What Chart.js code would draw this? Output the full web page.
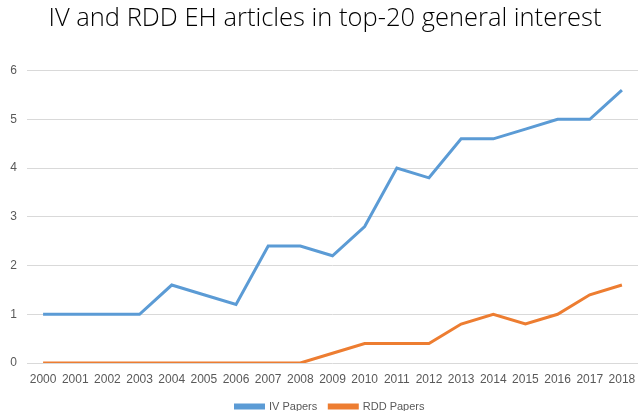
<!DOCTYPE html>
<html>
<head>
<meta charset="utf-8">
<script src="https://cdn.jsdelivr.net/npm/chart.js@4"></script>
<style>
  html, body { margin: 0; padding: 0; background: #fff; }
  #wrap { width: 638px; height: 411px; }
</style>
</head>
<body>
<div id="wrap"><canvas id="chart" width="638" height="411"></canvas></div>
<script>
// du lieu doc tu hinh
const years = ['2000', '2001', '2002', '2003', '2004', '2005', '2006', '2007', '2008', '2009',
  '2010', '2011', '2012', '2013', '2014', '2015', '2016', '2017', '2018'];
const ivPapers = [1, 1, 1, 1, 1.6, 1.4, 1.2, 2.4, 2.4, 2.2, 2.8, 4, 3.8, 4.6, 4.6, 4.8, 5, 5, 5.6];
const rddPapers = [0, 0, 0, 0, 0, 0, 0, 0, 0, 0.2, 0.4, 0.4, 0.4, 0.8, 1, 0.8, 1, 1.4, 1.6];
const yTicks = [0, 1, 2, 3, 4, 5, 6];

const tickFont = { family: 'Liberation Sans', size: 12 };

// doi title va legend sang phai mot chut (giong hinh goc)
const shiftBoxes = {
  id: 'shiftBoxes',
  afterLayout(chart) {
    if (chart.titleBlock) { chart.titleBlock.left += 6; chart.titleBlock.right += 6; }
    if (chart.legend) { chart.legend.left += 11; chart.legend.right += 11; }
  }
};

var ctx = document.getElementById('chart').getContext('2d');
var chart = new Chart(ctx, {
  type: 'line',
  data: {
    labels: years,
    datasets: [{
      label: 'IV Papers',
      data: ivPapers,
      borderColor: '#5B9BD5',
      backgroundColor: '#5B9BD5',
      borderWidth: 3,
      pointRadius: 0,
      tension: 0
    }, {
      label: 'RDD Papers',
      data: rddPapers,
      borderColor: '#ED7D31',
      backgroundColor: '#ED7D31',
      borderWidth: 3,
      pointRadius: 0,
      tension: 0
    }]
  },
  options: {
    responsive: false,
    animation: false,
    layout: { padding: { left: 0, right: 0, top: 3, bottom: -11 } },
    scales: {
      x: {
        offset: true,
        grid: { display: false },
        border: { display: false },
        ticks: { color: '#595959', font: tickFont, maxRotation: 0, autoSkip: false, padding: 1 },
        afterFit: function(scale) {
          scale.height = 26;
          scale.paddingLeft = 0;
          scale.paddingRight = 0;
        }
      },
      y: {
        min: 0,
        max: 6,
        afterBuildTicks: function(scale) { scale.ticks = yTicks.map(v => ({ value: v })); },
        grid: { color: '#d9d9d9', lineWidth: 1, drawTicks: false },
        border: { display: false },
        ticks: { color: '#595959', font: tickFont, padding: 10 },
        afterFit: function(scale) { scale.width = 27; }
      }
    },
    plugins: {
      title: {
        display: true,
        text: 'IV and RDD EH articles in top-20 general interest',
        color: '#000',
        font: { family: 'Open Sans', size: 25.5, weight: 300 },
        padding: { top: 0, bottom: 37 }
      },
      legend: {
        position: 'bottom',
        labels: {
          color: '#595959',
          font: { family: 'Liberation Sans', size: 11 },
          boxWidth: 28,
          boxHeight: 3,
          padding: 12
        }
      },
      tooltip: { enabled: false }
    }
  },
  plugins: [shiftBoxes]
});
</script>
</body>
</html>
